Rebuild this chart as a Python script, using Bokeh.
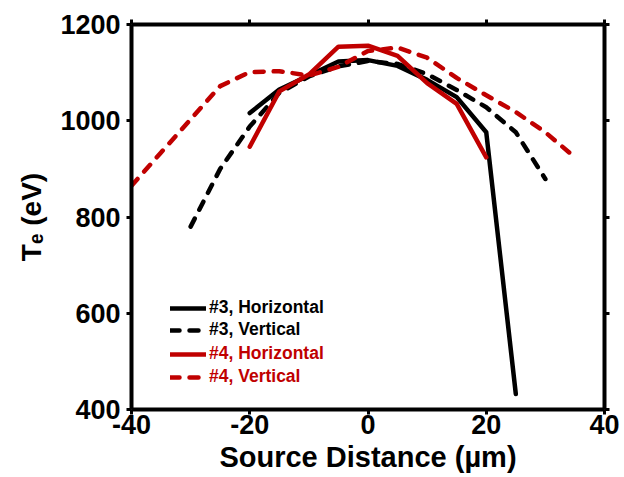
from bokeh.plotting import figure
from bokeh.models import (Range1d, LinearAxis, Legend, LegendItem,
                          FixedTicker, CustomJSTickFormatter)
from bokeh.embed import file_html
from bokeh.resources import INLINE

# ---- data ----
x_h3 = [-20, -15, -10, -5, 0, 5, 10, 15, 20, 25]
y_h3 = [1016, 1065, 1094, 1123, 1126, 1114, 1085, 1049, 976, 432]

x_v3 = [-30, -25, -20, -15, -10, -5, 0, 5, 10, 15, 20, 25, 30]
y_v3 = [780, 900, 988, 1058, 1092, 1113, 1124, 1118, 1097, 1064, 1028, 976, 879]

x_h4 = [-20, -15, -10, -5, 0, 5, 10, 15, 20]
y_h4 = [946, 1061, 1096, 1154, 1156, 1135, 1078, 1035, 924]

x_v4 = [-40, -35, -30, -25, -20, -15, -10, -5, 0, 5, 10, 15, 20, 25, 30, 35]
y_v4 = [865, 934, 1003, 1072, 1101, 1103, 1094, 1112, 1145, 1152, 1131, 1089, 1053, 1018, 976, 924]

series_names = ["#3, Horizontal", "#3, Vertical", "#4, Horizontal", "#4, Vertical"]
x_ticks = [-40, -20, 0, 20, 40]
x_tick_labels = ["-40", "-20", "0", "20", "40"]
y_ticks = [400, 600, 800, 1000, 1200]
x_title = "Source Distance (µm)"
y_title = "Tₑ (eV)"

RED = "#C00000"
FONT = "Liberation Sans"

p = figure(width=624, height=477, output_backend="svg", toolbar_location=None,
           x_range=Range1d(-40, 40), y_range=Range1d(400, 1200),
           min_border_left=131, min_border_right=20, min_border_top=24, min_border_bottom=68)
p.outline_line_color = None
p.xgrid.visible = False
p.ygrid.visible = False
p.background_fill_color = "white"
p.border_fill_color = "white"

def style_axis(ax, ticks, show_labels=True):
    ax.ticker = FixedTicker(ticks=ticks)
    ax.axis_line_width = 4
    ax.axis_line_color = "black"
    ax.major_tick_line_width = 3
    ax.major_tick_line_color = "black"
    ax.major_tick_out = 5
    ax.major_tick_in = 0
    ax.minor_tick_line_color = None
    ax.major_label_text_font = FONT
    ax.major_label_text_font_style = "bold"
    ax.major_label_text_font_size = "27px"
    ax.major_label_text_color = "black"
    ax.axis_label_text_font = FONT
    ax.axis_label_text_font_style = "bold"
    ax.axis_label_text_color = "black"
    if not show_labels:
        ax.formatter = CustomJSTickFormatter(code="return ''")

xa = p.xaxis[0]
style_axis(xa, x_ticks)
xa.major_label_overrides = dict(zip(x_ticks, x_tick_labels))
xa.major_label_standoff = 0
xa.axis_label = x_title
xa.axis_label_text_font_size = "29px"
xa.axis_label_standoff = 4

ya = p.yaxis[0]
style_axis(ya, y_ticks)
ya.major_label_standoff = 6
ya.axis_label = y_title
ya.axis_label_text_font_size = "28px"
ya.axis_label_standoff = 10

top = LinearAxis()
style_axis(top, x_ticks, show_labels=False)
p.add_layout(top, "above")
right = LinearAxis()
style_axis(right, y_ticks, show_labels=False)
p.add_layout(right, "right")

lw = 4.5
r1 = p.line(x_h3, y_h3, line_color="black", line_width=lw, line_join="round", line_cap="round")
r2 = p.line(x_v3, y_v3, line_color="black", line_width=lw, line_dash="9 10", line_join="round", line_cap="round")
r3 = p.line(x_h4, y_h4, line_color=RED, line_width=lw, line_join="round", line_cap="round")
r4 = p.line(x_v4, y_v4, line_color=RED, line_width=lw, line_dash="9 10", line_join="round", line_cap="round")

# one legend per row so each label can carry its series colour
rows = [(r1, "black", 91), (r2, "black", 69), (r3, RED, 45), (r4, RED, 22)]
for (r, col, yy), name in zip(rows, series_names):
    lg = Legend(items=[LegendItem(label=name, renderers=[r])], location=(39, yy),
                padding=0, margin=0, spacing=0, glyph_width=36, glyph_height=20,
                label_height=20, label_standoff=3,
                label_text_font=FONT, label_text_font_style="bold",
                label_text_font_size="17.5px", label_text_color=col,
                border_line_color=None, background_fill_alpha=0)
    p.add_layout(lg)

open("out.html", "w").write(file_html(p, INLINE))
